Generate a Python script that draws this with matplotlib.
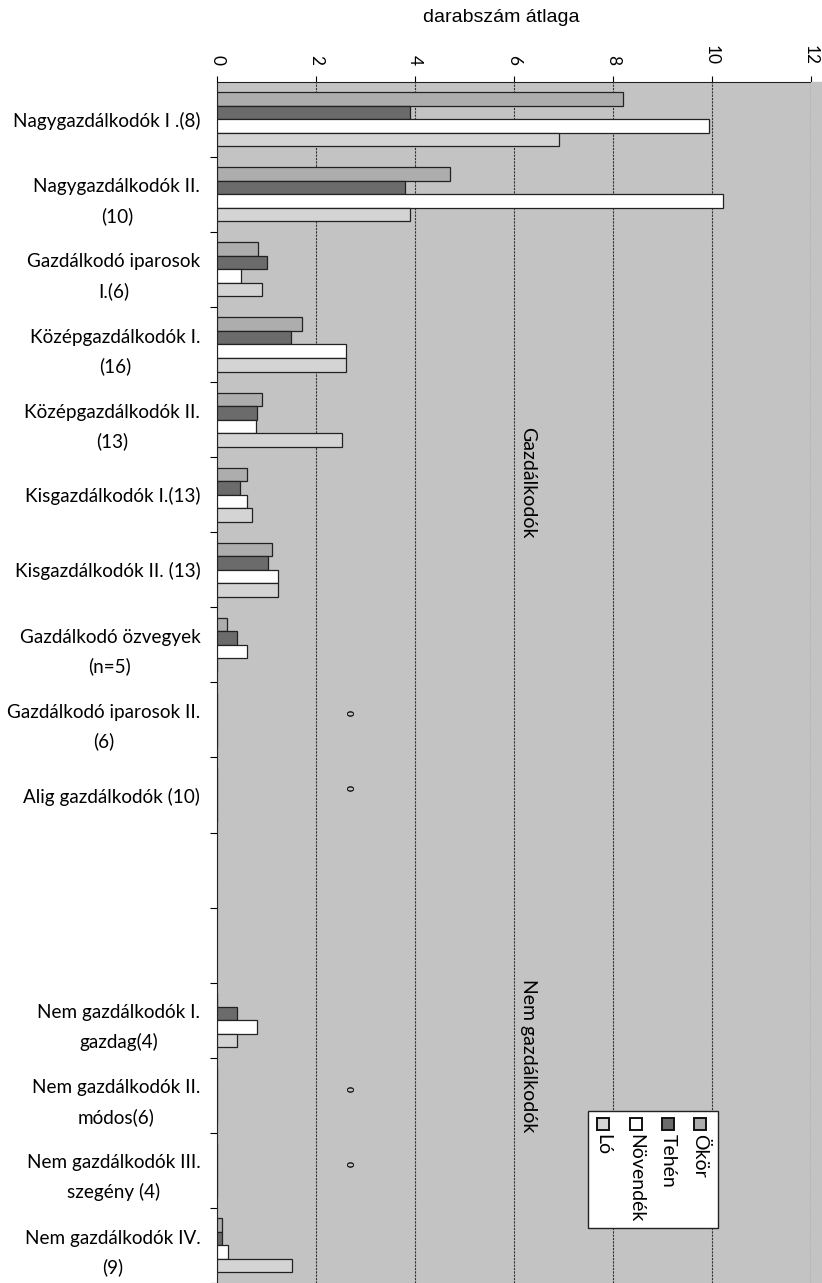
import matplotlib
matplotlib.use("Agg")
import matplotlib.pyplot as plt
import numpy as np
from matplotlib.patches import Rectangle

categories = ["Nagygazdálkodók I .(8)", "Nagygazdálkodók II.\n(10)",
              "Gazdálkodó iparosok\nI.(6)", "Középgazdálkodók I.\n(16)",
              "Középgazdálkodók II.\n(13)", "Kisgazdálkodók I.(13)",
              "Kisgazdálkodók II. (13)", "Gazdálkodó özvegyek\n(n=5)",
              "Gazdálkodó iparosok II.\n(6)", "Alig gazdálkodók (10)",
              "", "",
              "Nem gazdálkodók I.\ngazdag(4)", "Nem gazdálkodók II.\nmódos(6)",
              "Nem gazdálkodók III.\nszegény (4)", "Nem gazdálkodók IV.\n(9)"]
series = ["Ökör", "Tehén", "Növendék", "Ló"]
okor = [8.2, 4.7, 0.83, 1.72, 0.91, 0.61, 1.12, 0.21, 0, 0, np.nan, np.nan, 0, 0, 0, 0.1]
tehen = [3.9, 3.8, 1.0, 1.5, 0.81, 0.47, 1.03, 0.4, 0, 0, np.nan, np.nan, 0.4, 0, 0, 0.1]
novendek = [9.93, 10.23, 0.49, 2.6, 0.78, 0.61, 1.23, 0.61, 0, 0, np.nan, np.nan, 0.8, 0, 0, 0.22]
lo = [6.9, 3.9, 0.9, 2.6, 2.53, 0.71, 1.23, 0, 0, 0, np.nan, np.nan, 0.4, 0, 0, 1.52]
groups = ["Gazdálkodók", "Nem gazdálkodók"]

colors = ["#adadad", "#6b6b6b", "#ffffff", "#d4d4d4"]
bg = "#c3c3c3"
font = "Lato"

fig = plt.figure(figsize=(8.22, 12.83), dpi=100)
fig.patch.set_facecolor("white")
ax = fig.add_axes([217 / 822, 0, 594 / 822, 1 - 81.7 / 1283])
fig.patches.append(Rectangle((811 / 822, 0), 11 / 822, 1 - 81.7 / 1283,
                             transform=fig.transFigure, color=bg, zorder=0))
ax.set_facecolor(bg)

y = np.arange(len(categories))
h = 0.18
data = [okor, tehen, novendek, lo]
for k, vals in enumerate(data):
    vals = np.array(vals, dtype=float)
    m = ~np.isnan(vals)
    ax.barh(y[m] + (k - 1.5) * h, vals[m], height=h, color=colors[k],
            edgecolor="#222222", linewidth=0.9, zorder=3)

# "0" labels where the whole row is zero
for i in range(len(categories)):
    row = [d[i] for d in data]
    if not np.isnan(row[0]) and all(v == 0 for v in row):
        ax.text(2.65, y[i] - 0.09, "0", rotation=-90, fontsize=7.5,
                fontweight="bold", ha="center", va="center", family=font, zorder=4)

ax.set_xlim(0, 12)
ax.set_ylim(15.454, -0.5)
ax.xaxis.tick_top()
ax.set_xticks(range(0, 13, 2))
ax.set_xticklabels([str(v) for v in range(0, 13, 2)], rotation=-90,
                   fontsize=12.5, family=font)
ax.tick_params(axis="x", direction="out", length=4, width=0.8, pad=8)
ax.grid(axis="x", color="#333333", linestyle=(0, (2, 1)), linewidth=0.8, zorder=1)
ax.axvline(12, color="#555555", linestyle=(0, (2, 1)), linewidth=0.8, zorder=1)

ax.set_yticks(y)
ax.set_yticklabels(categories, fontsize=13.6, family=font, linespacing=1.78,
                   multialignment="center")
ax.tick_params(axis="y", which="major", length=0, pad=12)
ax.set_yticks(np.arange(0.5, 16, 1), minor=True)
ax.tick_params(axis="y", which="minor", direction="out", length=5, width=0.8)

for s in ["right", "bottom"]:
    ax.spines[s].set_visible(False)
ax.spines["left"].set_color("#222222")
ax.spines["top"].set_color("#222222")

ax.text(6.28, 4.84, groups[0], rotation=-90, fontsize=14, family=font,
        ha="center", va="center", zorder=4)
ax.text(6.3, 12.47, groups[1], rotation=-90, fontsize=14, family=font,
        ha="center", va="center", zorder=4)

# legend, turned like the rest of the chart
lx0, lx1, ly0, ly1 = 0.6246, 0.843, 0.046, 0.143
ax.add_patch(Rectangle((lx0, ly0), lx1 - lx0, ly1 - ly0, transform=ax.transAxes,
                       facecolor="white", edgecolor="#222222", linewidth=1, zorder=5))
xs = [700, 668, 636, 603]
for k, name in enumerate(series):
    xa = (xs[k] - 217) / 594
    sq = 12 / 594
    ax.add_patch(Rectangle((xa - sq / 2, 1 - (1130 - 81.7) / 1201.3), sq, 12 / 1201.3,
                           transform=ax.transAxes, facecolor=colors[k],
                           edgecolor="#111111", linewidth=1.4, zorder=6))
    ax.text(xa, 1 - (1134 - 81.7) / 1201.3, name, rotation=-90, fontsize=14,
            family=font, ha="center", va="top", transform=ax.transAxes, zorder=6)

fig.text(501 / 822, 1 - 18 / 1283, "darabszám átlaga", fontsize=14,
         family="Liberation Sans", ha="center", va="center")

fig.savefig("out.png", dpi=100)
